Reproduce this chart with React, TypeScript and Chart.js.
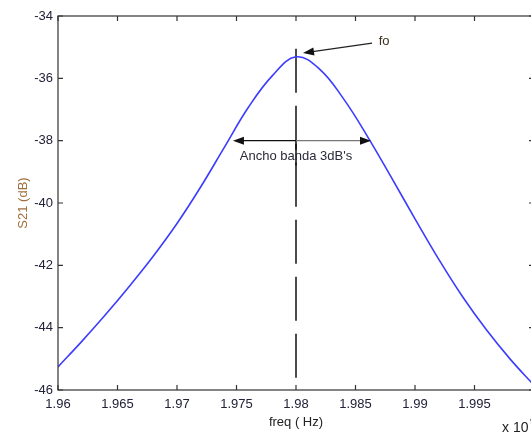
import React, { useEffect, useRef } from "react";
import { Chart, registerables } from "chart.js";

Chart.register(...registerables);

// Frequency (x 10^9 Hz) and S21 (dB)
const FREQ = [
  1.96, 1.962, 1.964, 1.966, 1.968, 1.97, 1.972, 1.974, 1.976, 1.978, 1.98,
  1.982, 1.984, 1.986, 1.988, 1.99, 1.992, 1.994, 1.996, 1.998, 2.0,
];
const S21 = [
  -45.26, -44.44, -43.58, -42.67, -41.71, -40.66, -39.48, -38.2, -36.93, -35.92, -35.31,
  -35.71, -36.66, -37.86, -39.17, -40.51, -41.81, -43.01, -44.07, -45.01, -45.85,
];

const X_TICKS = [1.96, 1.965, 1.97, 1.975, 1.98, 1.985, 1.99, 1.995, 2.0];
const Y_TICKS = [-46, -44, -42, -40, -38, -36, -34];

// Annotations (data units)
const F0 = 1.98;
const F0_LINE_DB = [-35.05, -46];
const F0_FILL_DB = [-38.1, -38.8];
const BW_FREQ = [1.9747, 1.9863];
const BW_LEVEL = -38;
const BW_TEXT = { x: 1.98, y: -38.52, label: "Ancho banda 3dB's" };
const FO_ARROW = { from: [1.98639, -34.87], to: [1.98059, -35.19] };
const FO_TEXT = { x: 1.9874, y: -34.8, label: "fo" };

const FONT = '"Liberation Sans", Arial, Helvetica, sans-serif';

function arrowHead(ctx: CanvasRenderingContext2D, x: number, y: number, ang: number, len = 11, half = 4) {
  ctx.beginPath();
  ctx.moveTo(x, y);
  ctx.lineTo(x - len * Math.cos(ang) + half * Math.sin(ang), y - len * Math.sin(ang) - half * Math.cos(ang));
  ctx.lineTo(x - len * Math.cos(ang) - half * Math.sin(ang), y - len * Math.sin(ang) + half * Math.cos(ang));
  ctx.closePath();
  ctx.fill();
}

const framePlugin = {
  id: "matlabFrame",
  afterDatasetsDraw(chart: any) {
    const { ctx, chartArea: a, scales } = chart;
    const xs = scales.x;
    const ys = scales.y;
    const TL = 5;
    ctx.save();
    ctx.strokeStyle = "#333";
    ctx.lineWidth = 1.2;
    ctx.strokeRect(a.left, a.top, a.right - a.left, a.bottom - a.top);
    ctx.beginPath();
    for (const t of xs.ticks) {
      const px = xs.getPixelForValue(t.value);
      ctx.moveTo(px, a.bottom);
      ctx.lineTo(px, a.bottom - TL);
      ctx.moveTo(px, a.top);
      ctx.lineTo(px, a.top + TL);
    }
    for (const t of ys.ticks) {
      const py = ys.getPixelForValue(t.value);
      ctx.moveTo(a.left, py);
      ctx.lineTo(a.left + TL, py);
      ctx.moveTo(a.right, py);
      ctx.lineTo(a.right - TL, py);
    }
    ctx.stroke();

    // bandwidth double arrow
    const xl = xs.getPixelForValue(BW_FREQ[0]);
    const xr = xs.getPixelForValue(BW_FREQ[1]);
    const xm = xs.getPixelForValue(F0);
    const yb = ys.getPixelForValue(BW_LEVEL);
    ctx.lineWidth = 1.4;
    ctx.strokeStyle = "#111";
    ctx.beginPath();
    ctx.moveTo(xl + 6, yb);
    ctx.lineTo(xm, yb);
    ctx.stroke();
    ctx.strokeStyle = "#777";
    ctx.beginPath();
    ctx.moveTo(xm, yb);
    ctx.lineTo(xr - 6, yb);
    ctx.stroke();
    ctx.fillStyle = "#111";
    arrowHead(ctx, xl, yb, Math.PI);
    arrowHead(ctx, xr, yb, 0);

    ctx.font = `13px ${FONT}`;
    ctx.fillStyle = "#2a2a3a";
    ctx.textAlign = "center";
    ctx.textBaseline = "middle";
    ctx.fillText(BW_TEXT.label, xs.getPixelForValue(BW_TEXT.x), ys.getPixelForValue(BW_TEXT.y));

    // fo arrow
    const fx = xs.getPixelForValue(FO_ARROW.from[0]);
    const fy = ys.getPixelForValue(FO_ARROW.from[1]);
    const tx = xs.getPixelForValue(FO_ARROW.to[0]);
    const ty = ys.getPixelForValue(FO_ARROW.to[1]);
    const ang = Math.atan2(ty - fy, tx - fx);
    ctx.strokeStyle = "#222";
    ctx.lineWidth = 1.2;
    ctx.beginPath();
    ctx.moveTo(fx, fy);
    ctx.lineTo(tx - 8 * Math.cos(ang), ty - 8 * Math.sin(ang));
    ctx.stroke();
    ctx.fillStyle = "#111";
    arrowHead(ctx, tx, ty, ang, 11, 4);
    ctx.fillStyle = "#3a3020";
    ctx.fillText(FO_TEXT.label, xs.getPixelForValue(FO_TEXT.x), ys.getPixelForValue(FO_TEXT.y));

    // exponent
    ctx.fillStyle = "#222";
    ctx.textAlign = "left";
    ctx.font = `14px ${FONT}`;
    ctx.fillText("x 10", a.right - 32, a.bottom + 38);
    ctx.font = `9px ${FONT}`;
    ctx.fillText("9", a.right - 4, a.bottom + 32);
    ctx.restore();
  },
};

export default function App() {
  const ref = useRef<HTMLCanvasElement | null>(null);
  useEffect(() => {
    if (!ref.current) return;
    const W = 560;
    const chart = new Chart(ref.current, {
      type: "scatter",
      data: {
        datasets: [
          {
            data: FREQ.map((f, i) => ({ x: f, y: S21[i] })),
            showLine: true,
            borderColor: "#3c3cff",
            borderWidth: 1.6,
            pointRadius: 0,
            tension: 0.4,
          },
          {
            data: F0_LINE_DB.map((v) => ({ x: F0, y: v })),
            showLine: true,
            borderColor: "#111",
            borderWidth: 1.5,
            borderDash: [44, 13],
            pointRadius: 0,
          },
          {
            data: F0_FILL_DB.map((v) => ({ x: F0, y: v })),
            showLine: true,
            borderColor: "#111",
            borderWidth: 1.5,
            pointRadius: 0,
          },
        ],
      },
      options: {
        responsive: false,
        animation: false,
        devicePixelRatio: 1,
        layout: { padding: { left: 0, top: 16, right: W - 534, bottom: 0 } },
        plugins: { legend: { display: false }, tooltip: { enabled: false } },
        scales: {
          x: {
            type: "linear",
            min: 1.96,
            max: 2.0,
            afterBuildTicks: (s: any) => {
              s.ticks = X_TICKS.map((v) => ({ value: v }));
            },
            afterFit: (s: any) => {
              s.height = 44;
            },
            grid: { display: false, drawTicks: false },
            border: { display: false },
            ticks: {
              autoSkip: false,
              maxRotation: 0,
              padding: 7,
              color: "#222238",
              font: { family: FONT, size: 13 },
              callback: (v: any) => String(Number(Number(v).toFixed(3))),
            },
            title: {
              display: true,
              text: "freq ( Hz)",
              color: "#222",
              font: { family: FONT, size: 13 },
              padding: { top: 0, bottom: 4 },
            },
          },
          y: {
            type: "linear",
            min: -46,
            max: -34,
            afterBuildTicks: (s: any) => {
              s.ticks = Y_TICKS.map((v) => ({ value: v }));
            },
            afterFit: (s: any) => {
              s.width = 58;
            },
            grid: { display: false, drawTicks: false },
            border: { display: false },
            ticks: {
              padding: 5,
              color: "#222238",
              font: { family: FONT, size: 13 },
              callback: (v: any) => String(v),
            },
            title: {
              display: true,
              text: "S21 (dB)",
              color: "#a0703c",
              font: { family: FONT, size: 13 },
              padding: { top: 16, bottom: 0 },
            },
          },
        },
      },
      plugins: [framePlugin],
    } as any);
    return () => chart.destroy();
  }, []);

  return (
    <div
      style={{
        position: "fixed",
        left: 0,
        top: 0,
        width: 531,
        height: 434,
        overflow: "hidden",
        background: "#fff",
      }}
    >
      <canvas ref={ref} width={560} height={434} style={{ width: 560, height: 434, display: "block" }} />
    </div>
  );
}
